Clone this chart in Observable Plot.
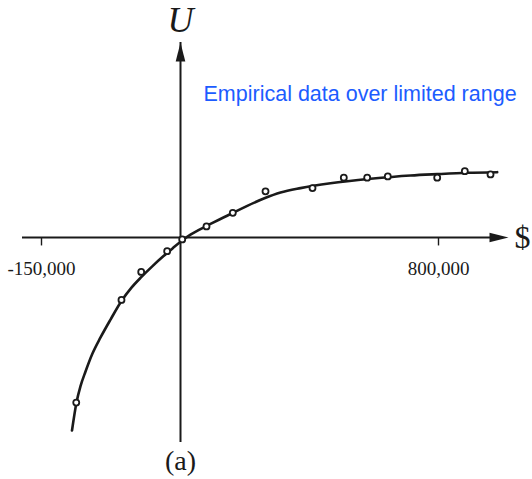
<!DOCTYPE html>
<html><head><meta charset="utf-8">
<script src="https://cdn.jsdelivr.net/npm/d3@7"></script>
<script src="https://cdn.jsdelivr.net/npm/@observablehq/plot@0.6"></script>
<style>body{margin:0;background:#fff} #chart svg{display:block}</style>
</head><body><div id="chart"></div>
<script>
// Fitted utility curve (dollars, utility)
const curveX = [-117100, -112200, -107900, -102500, -95000, -86300, -75500, -63700, -52900, -42100, -30200, -18300, -8600, 3100, 31000, 55800, 82800, 155000, 258300, 310100, 372100, 465100, 589200, 713200, 796000, 889000, 982000];
const curveU = [-2.97, -2.535, -2.286, -2.062, -1.785, -1.538, -1.262, -0.977, -0.772, -0.606, -0.440, -0.286, -0.168, -0.054, 0.043, 0.114, 0.182, 0.362, 0.600, 0.692, 0.760, 0.834, 0.903, 0.954, 0.975, 0.995, 1.005];
// Empirical points
const dotX = [-112500, -63700, -42400, -14400, 5300, 80600, 162200, 263600, 409300, 506400, 578900, 642800, 796000, 881600, 961300];
const dotU = [-2.54, -0.96, -0.53, -0.21, -0.03, 0.17, 0.38, 0.71, 0.76, 0.92, 0.92, 0.94, 0.92, 1.02, 0.97];
// Axis ticks
const tickValues = [-150000, 800000];
const tickLabels = ["-150,000", "800,000"];
const xAxisExtent = [-170500, 1017000];
const yAxisExtent = [-3, 3];
const annotation = "Empirical data over limited range";
const xLabel = "$", yLabel = "U", panelLabel = "(a)";

const curve = curveX.map((x, i) => ({x, u: curveU[i]}));
const dots = dotX.map((x, i) => ({x, u: dotU[i]}));

// the drawing is not to scale: the negative side is stretched
const warp = d3.scaleLinear().domain([-150000, 0, 800000]).range([-139, 0, 258]);

const ink = "#1a1a1a";
const serif = "Liberation Serif, Times New Roman, serif";
const arrowHead = {draw(ctx) { ctx.moveTo(0, 0); ctx.lineTo(-4.8, 19); ctx.lineTo(4.8, 19); ctx.closePath(); }};

const chart = Plot.plot({
  width: 532, height: 479, margin: 0,
  style: {background: "white", fontFamily: serif},
  x: {transform: d => warp(d), domain: [-139, 258], range: [41, 438], axis: null},
  y: {domain: [-3, 3], range: [432, 42], axis: null},
  marks: [
    Plot.ruleY([0], {x1: xAxisExtent[0], x2: xAxisExtent[1], insetRight: 10, stroke: ink, strokeWidth: 2}),
    Plot.ruleX([0], {y1: yAxisExtent[0], y2: yAxisExtent[1], insetTop: 10, stroke: ink, strokeWidth: 2}),
    Plot.ruleX(tickValues, {x: d => d, y1: 0, y2: -0.13, stroke: ink, strokeWidth: 1.4}),
    Plot.text(tickValues, {x: d => d, y: 0, text: (d, i) => tickLabels[i], dy: 31, fontSize: 19, fontFamily: serif, fill: ink}),
    Plot.line(curve, {x: "x", y: "u", curve: "monotone-x", stroke: ink, strokeWidth: 2.6}),
    Plot.dot(dots, {x: "x", y: "u", r: 3, stroke: ink, fill: "white", strokeWidth: 1.8}),
    Plot.dot([xAxisExtent[1]], {x: d => d, y: 0, symbol: arrowHead, rotate: 90, fill: ink, stroke: "none"}),
    Plot.dot([yAxisExtent[1]], {x: 0, y: d => d, symbol: arrowHead, fill: ink, stroke: "none"}),
    Plot.text([xLabel], {x: xAxisExtent[1], y: 0, text: d => d, dx: 6, textAnchor: "start", fontSize: 32, fontFamily: serif, fill: ink}),
    Plot.text([yLabel], {x: 0, frameAnchor: "top", text: d => d, dy: 6, fontSize: 36, fontStyle: "italic", fontFamily: serif, fill: ink}),
    Plot.text([annotation], {x: 0, frameAnchor: "top", text: d => d, dx: 23, dy: 85.5, textAnchor: "start", fontSize: 21.5, fontFamily: "Liberation Sans, Arial, sans-serif", fill: "#1c5cff"}),
    Plot.text([panelLabel], {x: 0, frameAnchor: "bottom", text: d => d, dy: -10, fontSize: 28, fontFamily: serif, fill: ink})
  ]
});
document.getElementById("chart").append(chart);
</script>
</body></html>
